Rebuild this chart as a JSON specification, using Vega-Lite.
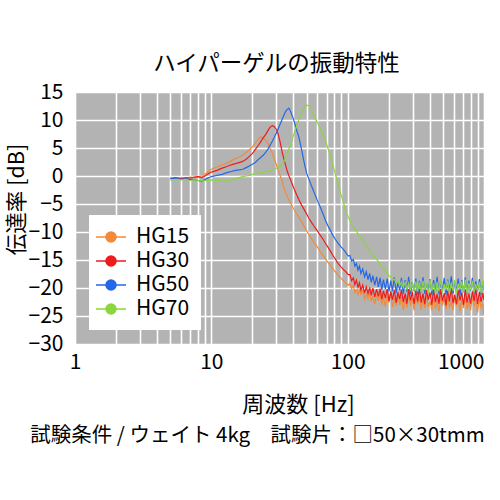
{
"$schema": "https://vega.github.io/schema/vega-lite/v6.json",
"width": 409, "height": 252,
"autosize": "none",
"padding": {"left": 75, "top": 92, "right": 16, "bottom": 156},
"background": "white",
"title": {"text": "試験条件 / ウェイト 4kg　試験片：□50×30tmm", "orient": "bottom", "frame": "group", "anchor": "middle", "dx": -22, "offset": 11, "baseline": "top", "fontSize": 20.5, "font": "Noto Sans CJK JP", "fontWeight": "normal", "color": "#000"},
"config": {"view": {"fill": "#B3B3B3", "stroke": null}, "font": "Noto Sans CJK JP"},
"data": {"values": [
{"f":5,"HG15":-0.4,"HG30":-0.4,"HG50":-0.5,"HG70":-0.7},
{"f":5.5,"HG15":-0.5,"HG30":-0.3,"HG50":-0.4,"HG70":-0.6},
{"f":6,"HG15":-0.3,"HG30":-0.5,"HG50":-0.6,"HG70":-0.7},
{"f":6.5,"HG15":-0.4,"HG30":-0.3,"HG50":-0.5,"HG70":-0.6},
{"f":7,"HG15":-0.2,"HG30":-0.4,"HG50":-0.6,"HG70":-0.8},
{"f":7.5,"HG15":-0.3,"HG30":-0.2,"HG50":-0.7,"HG70":-0.7},
{"f":8,"HG15":-0.1,"HG30":-0.1,"HG50":-0.8,"HG70":-0.8},
{"f":8.5,"HG15":-0.2,"HG30":-0.3,"HG50":-1.0,"HG70":-0.9},
{"f":9,"HG15":0.3,"HG30":0.0,"HG50":-0.6,"HG70":-0.8},
{"f":9.5,"HG15":0.8,"HG30":0.4,"HG50":-0.3,"HG70":-0.8},
{"f":10,"HG15":1.2,"HG30":0.7,"HG50":-0.1,"HG70":-0.7},
{"f":11,"HG15":1.6,"HG30":1.0,"HG50":0.1,"HG70":-0.8},
{"f":12,"HG15":2.0,"HG30":1.4,"HG50":0.3,"HG70":-0.9},
{"f":13,"HG15":2.3,"HG30":1.7,"HG50":0.6,"HG70":-0.9},
{"f":14,"HG15":2.7,"HG30":2.0,"HG50":0.8,"HG70":-0.7},
{"f":15,"HG15":3.1,"HG30":2.2,"HG50":1.0,"HG70":-0.5},
{"f":16,"HG15":3.4,"HG30":2.4,"HG50":1.1,"HG70":-0.3},
{"f":17,"HG15":3.7,"HG30":2.6,"HG50":1.2,"HG70":-0.1},
{"f":18,"HG15":4.2,"HG30":3.0,"HG50":1.5,"HG70":0.0},
{"f":19,"HG15":4.7,"HG30":3.5,"HG50":1.8,"HG70":0.1},
{"f":20,"HG15":5.2,"HG30":4.0,"HG50":2.1,"HG70":0.3},
{"f":21,"HG15":5.9,"HG30":4.7,"HG50":2.4,"HG70":0.4},
{"f":22,"HG15":6.5,"HG30":5.4,"HG50":2.9,"HG70":0.5},
{"f":23,"HG15":7.0,"HG30":6.1,"HG50":3.3,"HG70":0.6},
{"f":24,"HG15":6.8,"HG30":6.8,"HG50":3.7,"HG70":0.7},
{"f":25,"HG15":6.4,"HG30":7.4,"HG50":4.2,"HG70":0.8},
{"f":26,"HG15":5.8,"HG30":8.1,"HG50":4.8,"HG70":0.9},
{"f":27,"HG15":4.9,"HG30":8.7,"HG50":5.5,"HG70":1.0},
{"f":28,"HG15":4.1,"HG30":9.0,"HG50":6.2,"HG70":1.1},
{"f":29,"HG15":3.0,"HG30":8.8,"HG50":6.9,"HG70":1.2},
{"f":30,"HG15":2.0,"HG30":8.3,"HG50":7.7,"HG70":1.4},
{"f":31,"HG15":1.0,"HG30":7.4,"HG50":8.5,"HG70":1.6},
{"f":32,"HG15":0.1,"HG30":6.0,"HG50":9.3,"HG70":1.8},
{"f":33,"HG15":-0.8,"HG30":4.4,"HG50":10.1,"HG70":2.1},
{"f":34,"HG15":-2.0,"HG30":3.1,"HG50":10.8,"HG70":2.5},
{"f":35,"HG15":-2.9,"HG30":2.0,"HG50":11.5,"HG70":3.2},
{"f":36,"HG15":-3.6,"HG30":0.9,"HG50":11.9,"HG70":4.0},
{"f":37,"HG15":-4.2,"HG30":0.1,"HG50":12.1,"HG70":4.8},
{"f":38,"HG15":-4.8,"HG30":-0.6,"HG50":11.6,"HG70":5.6},
{"f":39,"HG15":-5.3,"HG30":-1.3,"HG50":10.9,"HG70":6.4},
{"f":40,"HG15":-5.8,"HG30":-2.0,"HG50":10.2,"HG70":7.2},
{"f":42,"HG15":-6.6,"HG30":-3.2,"HG50":8.4,"HG70":8.8},
{"f":44,"HG15":-7.4,"HG30":-4.3,"HG50":6.8,"HG70":10.2},
{"f":46,"HG15":-8.2,"HG30":-5.2,"HG50":4.6,"HG70":11.3},
{"f":48,"HG15":-9.0,"HG30":-6.0,"HG50":2.4,"HG70":12.2},
{"f":50,"HG15":-9.8,"HG30":-6.8,"HG50":0.5,"HG70":12.7},
{"f":52,"HG15":-10.5,"HG30":-7.6,"HG50":-0.6,"HG70":12.5},
{"f":54,"HG15":-11.1,"HG30":-8.2,"HG50":-1.6,"HG70":11.8},
{"f":56,"HG15":-11.7,"HG30":-8.8,"HG50":-2.6,"HG70":11.0},
{"f":58,"HG15":-12.2,"HG30":-9.3,"HG50":-3.5,"HG70":10.2},
{"f":60,"HG15":-12.7,"HG30":-9.8,"HG50":-4.4,"HG70":9.5},
{"f":63,"HG15":-13.5,"HG30":-10.6,"HG50":-5.6,"HG70":8.5},
{"f":66,"HG15":-14.2,"HG30":-11.3,"HG50":-6.8,"HG70":7.3},
{"f":69,"HG15":-14.9,"HG30":-12.1,"HG50":-8.0,"HG70":6.2},
{"f":72,"HG15":-15.5,"HG30":-12.8,"HG50":-9.0,"HG70":4.8},
{"f":75,"HG15":-16.0,"HG30":-13.5,"HG50":-9.8,"HG70":3.4},
{"f":78,"HG15":-16.6,"HG30":-14.2,"HG50":-10.6,"HG70":1.9},
{"f":81,"HG15":-17.1,"HG30":-14.8,"HG50":-11.3,"HG70":0.5},
{"f":85,"HG15":-17.7,"HG30":-15.6,"HG50":-12.0,"HG70":-1.3},
{"f":89,"HG15":-18.2,"HG30":-16.2,"HG50":-12.6,"HG70":-3.2},
{"f":93,"HG15":-18.7,"HG30":-16.7,"HG50":-13.1,"HG70":-4.7},
{"f":97,"HG15":-19.1,"HG30":-17.1,"HG50":-13.7,"HG70":-6.2},
{"f":101,"HG15":-19.5,"HG30":-17.6,"HG50":-14.3,"HG70":-7.3},
{"f":104,"HG15":-19.2,"HG30":-17.6,"HG50":-14.2,"HG70":-8.0},
{"f":107,"HG15":-20.1,"HG30":-18.7,"HG50":-15.2,"HG70":-8.8},
{"f":110,"HG15":-19.5,"HG30":-18.2,"HG50":-14.9,"HG70":-9.0},
{"f":113,"HG15":-20.8,"HG30":-19.4,"HG50":-16.1,"HG70":-9.6},
{"f":116,"HG15":-20.3,"HG30":-18.6,"HG50":-15.6,"HG70":-9.8},
{"f":119,"HG15":-21.2,"HG30":-19.9,"HG50":-16.8,"HG70":-10.4},
{"f":122,"HG15":-20.3,"HG30":-19.1,"HG50":-16.1,"HG70":-10.6},
{"f":125,"HG15":-21.1,"HG30":-20.4,"HG50":-17.4,"HG70":-11.1},
{"f":129,"HG15":-20.4,"HG30":-19.5,"HG50":-16.6,"HG70":-11.4},
{"f":133,"HG15":-22.0,"HG30":-20.9,"HG50":-18.0,"HG70":-12.1},
{"f":137,"HG15":-21.1,"HG30":-19.8,"HG50":-17.1,"HG70":-12.4},
{"f":141,"HG15":-21.9,"HG30":-21.0,"HG50":-18.5,"HG70":-13.0},
{"f":145,"HG15":-20.7,"HG30":-19.9,"HG50":-17.4,"HG70":-13.2},
{"f":149,"HG15":-22.4,"HG30":-21.3,"HG50":-19.0,"HG70":-13.8},
{"f":153,"HG15":-21.4,"HG30":-20.0,"HG50":-17.8,"HG70":-13.9},
{"f":158,"HG15":-22.9,"HG30":-21.6,"HG50":-19.5,"HG70":-14.6},
{"f":163,"HG15":-21.1,"HG30":-20.2,"HG50":-18.0,"HG70":-14.8},
{"f":168,"HG15":-22.3,"HG30":-21.5,"HG50":-19.8,"HG70":-15.4},
{"f":173,"HG15":-20.9,"HG30":-20.1,"HG50":-18.2,"HG70":-15.7},
{"f":178,"HG15":-23.0,"HG30":-22.0,"HG50":-20.3,"HG70":-16.3},
{"f":183,"HG15":-21.6,"HG30":-20.5,"HG50":-18.5,"HG70":-16.5},
{"f":189,"HG15":-23.3,"HG30":-21.8,"HG50":-20.2,"HG70":-17.1},
{"f":195,"HG15":-21.4,"HG30":-20.2,"HG50":-18.3,"HG70":-17.2},
{"f":201,"HG15":-22.6,"HG30":-22.3,"HG50":-20.6,"HG70":-17.9},
{"f":207,"HG15":-21.0,"HG30":-20.6,"HG50":-18.7,"HG70":-17.9},
{"f":213,"HG15":-23.4,"HG30":-22.1,"HG50":-20.5,"HG70":-18.6},
{"f":220,"HG15":-22.0,"HG30":-20.4,"HG50":-18.1,"HG70":-18.4},
{"f":227,"HG15":-23.2,"HG30":-22.6,"HG50":-20.9,"HG70":-19.2},
{"f":234,"HG15":-21.1,"HG30":-20.8,"HG50":-18.8,"HG70":-18.8},
{"f":241,"HG15":-23.0,"HG30":-22.0,"HG50":-20.4,"HG70":-19.6},
{"f":248,"HG15":-21.6,"HG30":-20.3,"HG50":-18.2,"HG70":-18.9},
{"f":256,"HG15":-23.9,"HG30":-22.5,"HG50":-21.0,"HG70":-19.9},
{"f":264,"HG15":-22.1,"HG30":-21.0,"HG50":-18.6,"HG70":-19.0},
{"f":272,"HG15":-23.5,"HG30":-22.8,"HG50":-20.7,"HG70":-20.2},
{"f":280,"HG15":-21.1,"HG30":-20.2,"HG50":-18.0,"HG70":-19.1},
{"f":289,"HG15":-23.1,"HG30":-22.2,"HG50":-21.1,"HG70":-20.3},
{"f":298,"HG15":-21.8,"HG30":-20.7,"HG50":-19.0,"HG70":-19.2},
{"f":307,"HG15":-24.0,"HG30":-22.9,"HG50":-20.6,"HG70":-20.5},
{"f":316,"HG15":-21.6,"HG30":-20.5,"HG50":-18.3,"HG70":-18.8},
{"f":326,"HG15":-22.9,"HG30":-22.4,"HG50":-21.2,"HG70":-20.6},
{"f":336,"HG15":-21.5,"HG30":-20.1,"HG50":-18.7,"HG70":-19.0},
{"f":346,"HG15":-23.9,"HG30":-22.6,"HG50":-20.8,"HG70":-20.8},
{"f":357,"HG15":-22.1,"HG30":-21.0,"HG50":-18.1,"HG70":-18.7},
{"f":368,"HG15":-23.6,"HG30":-22.9,"HG50":-21.0,"HG70":-20.4},
{"f":379,"HG15":-21.2,"HG30":-20.4,"HG50":-19.2,"HG70":-19.1},
{"f":390,"HG15":-23.4,"HG30":-22.1,"HG50":-20.5,"HG70":-20.9},
{"f":402,"HG15":-22.4,"HG30":-20.8,"HG50":-18.4,"HG70":-18.6},
{"f":414,"HG15":-24.0,"HG30":-23.0,"HG50":-21.3,"HG70":-20.5},
{"f":427,"HG15":-21.6,"HG30":-20.3,"HG50":-18.6,"HG70":-19.2},
{"f":440,"HG15":-23.7,"HG30":-22.5,"HG50":-20.9,"HG70":-21.0},
{"f":453,"HG15":-22.2,"HG30":-21.1,"HG50":-18.0,"HG70":-18.9},
{"f":467,"HG15":-24.2,"HG30":-22.8,"HG50":-21.1,"HG70":-20.6},
{"f":481,"HG15":-21.4,"HG30":-20.2,"HG50":-18.8,"HG70":-18.5},
{"f":496,"HG15":-23.1,"HG30":-22.3,"HG50":-20.4,"HG70":-20.8},
{"f":511,"HG15":-21.8,"HG30":-20.9,"HG50":-18.2,"HG70":-19.3},
{"f":526,"HG15":-23.8,"HG30":-23.1,"HG50":-21.2,"HG70":-20.4},
{"f":542,"HG15":-21.3,"HG30":-20.5,"HG50":-18.5,"HG70":-18.7},
{"f":558,"HG15":-23.5,"HG30":-22.4,"HG50":-20.7,"HG70":-21.0},
{"f":575,"HG15":-22.5,"HG30":-20.0,"HG50":-17.9,"HG70":-19.0},
{"f":592,"HG15":-24.0,"HG30":-22.7,"HG50":-21.0,"HG70":-20.5},
{"f":610,"HG15":-21.5,"HG30":-21.2,"HG50":-18.9,"HG70":-18.6},
{"f":628,"HG15":-23.3,"HG30":-22.9,"HG50":-20.6,"HG70":-20.9},
{"f":647,"HG15":-21.7,"HG30":-20.4,"HG50":-18.3,"HG70":-19.2},
{"f":667,"HG15":-24.1,"HG30":-22.2,"HG50":-21.3,"HG70":-20.3},
{"f":687,"HG15":-22.0,"HG30":-20.8,"HG50":-18.6,"HG70":-18.8},
{"f":708,"HG15":-23.6,"HG30":-23.0,"HG50":-20.8,"HG70":-20.7},
{"f":729,"HG15":-21.2,"HG30":-20.3,"HG50":-18.1,"HG70":-18.5},
{"f":751,"HG15":-23.8,"HG30":-22.6,"HG50":-21.1,"HG70":-21.0},
{"f":774,"HG15":-22.3,"HG30":-21.0,"HG50":-18.7,"HG70":-19.1},
{"f":797,"HG15":-24.0,"HG30":-22.8,"HG50":-20.5,"HG70":-20.4},
{"f":821,"HG15":-21.5,"HG30":-20.6,"HG50":-18.2,"HG70":-18.7},
{"f":846,"HG15":-23.3,"HG30":-22.3,"HG50":-21.0,"HG70":-20.8},
{"f":871,"HG15":-22.0,"HG30":-20.1,"HG50":-18.8,"HG70":-19.3},
{"f":897,"HG15":-24.4,"HG30":-22.9,"HG50":-20.6,"HG70":-20.5},
{"f":924,"HG15":-21.9,"HG30":-20.7,"HG50":-18.4,"HG70":-18.9},
{"f":952,"HG15":-23.5,"HG30":-22.5,"HG50":-21.2,"HG70":-20.9},
{"f":980,"HG15":-22.6,"HG30":-20.9,"HG50":-18.9,"HG70":-18.6},
{"f":1000,"HG15":-24.8,"HG30":-22.2,"HG50":-20.3,"HG70":-20.2}
]},
"transform": [{"fold": ["HG15","HG30","HG50","HG70"], "as": ["series","dB"]}],
"layer": [
{
"mark": {"type": "line", "strokeWidth": 1.2, "clip": true},
"encoding": {
"x": {"field": "f", "type": "quantitative",
 "scale": {"type": "log", "domain": [1,1000], "nice": false},
 "axis": {"orient": "bottom",
  "values": [1,2,3,4,5,6,7,8,9,10,20,30,40,50,60,70,80,90,100,200,300,400,500,600,700,800,900,1000],
  "labelExpr": "(datum.value==1||datum.value==10||datum.value==100||datum.value==1000) ? format(datum.value,'d') : ''",
  "labelOverlap": false, "labelBound": false, "labelFlush": false,
  "labelAlign": {"condition": {"test": "datum.value == 1000", "value": "right"}, "value": "center"},
  "labelFontSize": 21, "labelColor": "#000", "labelPadding": 7, "labelFont": "Noto Sans CJK JP",
  "ticks": false, "domain": false,
  "grid": true, "gridColor": "#ffffff", "gridWidth": 1.6, "gridOpacity": 1,
  "title": "周波数 [Hz]", "titleFontSize": 22, "titleFontWeight": "normal", "titleFont": "Noto Sans CJK JP",
  "titleX": 223, "titleY": 60, "titleBaseline": "middle", "titleAlign": "center", "titleColor": "#000"}},
"y": {"field": "dB", "type": "quantitative",
 "scale": {"domain": [-30,15], "nice": false},
 "axis": {"values": [-30,-25,-20,-15,-10,-5,0,5,10,15],
  "labelFontSize": 21, "labelColor": "#000", "labelPadding": 12, "labelFont": "Noto Sans CJK JP",
  "ticks": false, "domain": false,
  "grid": true, "gridColor": "#ffffff", "gridWidth": 1.6, "gridOpacity": 1,
  "title": "伝達率 [dB]", "titleFontSize": 21.5, "titleFontWeight": "normal", "titleFont": "Noto Sans CJK JP",
  "titleX": -58, "titleY": 107, "titleAngle": 270, "titleAlign": "center", "titleBaseline": "middle", "titleColor": "#000"}},
"color": {"field": "series", "type": "nominal",
 "scale": {"domain": ["HG15","HG30","HG50","HG70"], "range": ["#F28A3A","#EE1C1C","#2468E8","#8CD63E"]},
 "legend": {"title": null, "orient": "none", "legendX": 14, "legendY": 123,
  "fillColor": "#ffffff", "padding": 11, "labelFontSize": 21, "labelColor": "#000", "labelFont": "Noto Sans CJK JP",
  "symbolType": "M-1.5,0H1.5M-0.5,0A0.5,0.5,0,1,1,0.5,0A0.5,0.5,0,1,1,-0.5,0Z",
  "symbolSize": 400, "symbolStrokeWidth": 1.5, "symbolOpacity": 1, "labelOffset": 14, "rowPadding": 3}}
}
},
{
"mark": {"type": "point", "filled": true, "opacity": 0},
"encoding": {
"x": {"field": "f", "type": "quantitative",
 "axis": {"orient": "top", "title": "ハイパーゲルの振動特性", "labels": false, "ticks": false, "domain": false, "grid": false,
  "titleFontSize": 22.5, "titleFontWeight": "normal", "titleFont": "Noto Sans CJK JP",
  "titleX": 201, "titleY": -29, "titleBaseline": "middle", "titleAlign": "center", "titleColor": "#000"}},
"color": {"field": "series", "type": "nominal"}
}
}
],
"resolve": {"axis": {"x": "independent"}}
}
